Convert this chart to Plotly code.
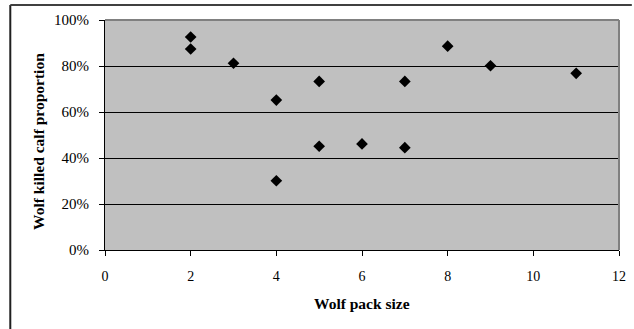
import plotly.graph_objects as go

pack_size = [2, 2, 3, 4, 4, 5, 5, 6, 7, 7, 8, 9, 11]
calf_prop = [0.926, 0.874, 0.812, 0.652, 0.301, 0.733, 0.451, 0.461, 0.733, 0.445, 0.886, 0.801, 0.768]

x_title = "Wolf pack size"
y_title = "Wolf killed calf proportion"

font_family = "Liberation Serif, Times New Roman, serif"

fig = go.Figure()
fig.add_trace(go.Scatter(
    x=pack_size, y=calf_prop, mode="markers",
    marker=dict(symbol="diamond", size=9, color="black"),
    showlegend=False, cliponaxis=False,
))

L, R, T, B = 105, 8, 20, 79
W, H = 634, 329
pw = W - L - R
ph = H - T - B


def px(x):
    return (x - L) / pw


def py(y):
    return (H - B - y) / ph


fig.update_layout(
    width=W, height=H,
    margin=dict(l=L, r=R, t=T, b=B),
    paper_bgcolor="white",
    plot_bgcolor="#C0C0C0",
    font=dict(family=font_family, size=14, color="black"),
    xaxis=dict(
        range=[0, 12], dtick=2, tick0=0,
        showgrid=False, zeroline=False,
        showline=True, linecolor="black", linewidth=1,
        ticks="outside", ticklen=5, tickcolor="black",
        ticklabelstandoff=8,
    ),
    yaxis=dict(
        range=[0, 1], dtick=0.2, tick0=0, tickformat=".0%",
        showgrid=True, gridcolor="black", gridwidth=1,
        zeroline=False,
        showline=True, linecolor="black", linewidth=1,
        ticks="outside", ticklen=5, tickcolor="black",
        ticklabelstandoff=7,
        tickfont=dict(size=15),
    ),
    annotations=[
        dict(text="<b>" + x_title + "</b>", xref="paper", yref="paper",
             x=px(365), y=py(303), xanchor="center", yanchor="middle",
             showarrow=False, font=dict(size=15.5)),
        dict(text="<b>" + y_title + "</b>", xref="paper", yref="paper",
             x=px(37), y=py(141), xanchor="center", yanchor="middle",
             textangle=-90, showarrow=False, font=dict(size=15.5)),
    ],
    shapes=[
        # gray top and right plot border
        dict(type="line", xref="paper", yref="paper", x0=0, x1=1, y0=1, y1=1,
             line=dict(color="#808080", width=2)),
        dict(type="line", xref="paper", yref="paper", x0=1, x1=1, y0=0, y1=1,
             line=dict(color="#808080", width=2)),
        # outer figure frame (left and top only)
        dict(type="line", xref="paper", yref="paper",
             x0=px(9), x1=px(9), y0=py(5), y1=py(H + 5),
             line=dict(color="#202020", width=2)),
        dict(type="line", xref="paper", yref="paper",
             x0=px(9), x1=px(W + 5), y0=py(5), y1=py(5),
             line=dict(color="#404040", width=2)),
    ],
)

fig.write_html("out.html")
